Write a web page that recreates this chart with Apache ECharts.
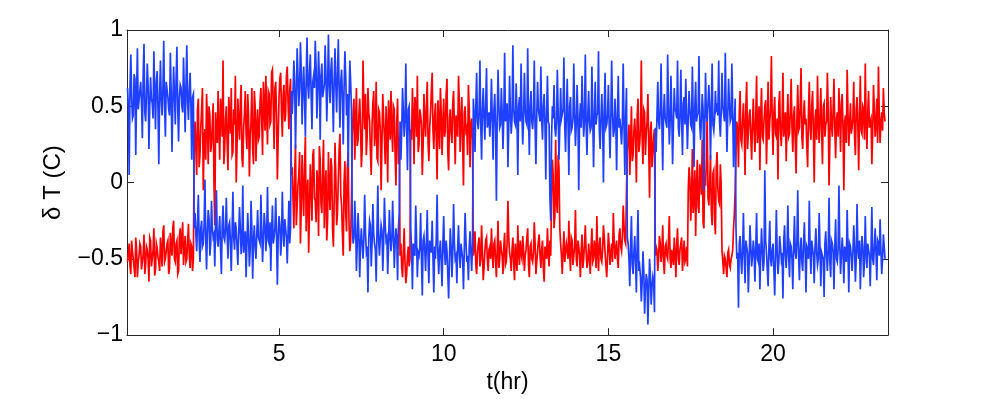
<!DOCTYPE html>
<html>
<head>
<meta charset="utf-8">
<script src="https://cdn.jsdelivr.net/npm/echarts@6/dist/echarts.min.js"></script>
<style>
    html, body { margin: 0; padding: 0; background: #fff; }
    #chart { width: 981px; height: 399px; }
</style>
</head>
<body>
<div id="chart"></div>
<script>
    // sampling of the two traces (hours): readings every tStep from tStart,
    // plus a second set of readings half a step later
    var tStart = 0.4;
    var tStep = 0.05;
    var xTicks = [5, 10, 15, 20];

    // red trace, one row per hour starting at tStart
    var redValues = [
        -0.52, -0.40, -0.60, -0.45, -0.56, -0.36, -0.62, -0.48, -0.42, -0.58, -0.34, -0.54, -0.44, -0.65, -0.38, -0.50, -0.30, -0.57, -0.43, -0.52,
        -0.36, -0.55, -0.28, -0.50, -0.40, -0.60, -0.33, -0.48, -0.25, -0.52, -0.38, -0.58, -0.30, -0.46, -0.54, -0.35, -0.50, -0.27, -0.56, -0.42,
        -0.50, 0.40, 0.05, 0.55, 0.18, 0.48, -0.05, 0.35, 0.58, 0.12, 0.44, 0.25, 0.52, -0.28, 0.30, 0.60, 0.15, 0.46, 0.80, 0.22,
        0.50, 0.08, 0.42, 0.62, 0.20, 0.38, 0.00, 0.55, 0.28, 0.64, 0.10, 0.45, 0.32, 0.58, 0.04, 0.40, 0.22, 0.60, 0.14, 0.48,
        0.30, 0.62, 0.18, 0.52, 0.70, 0.25, 0.58, 0.40, 0.74, 0.22, 0.66, 0.02, 0.56, 0.72, 0.30, 0.64, 0.44, 0.76, 0.35, 0.68,
        0.10, -0.30, 0.25, -0.15, 0.05, -0.40, 0.18, -0.22, 0.30, -0.08, -0.46, 0.12, -0.25, 0.22, -0.12, 0.08, -0.35, 0.15, -0.20, 0.28,
        -0.05, -0.38, 0.20, -0.18, 0.10, -0.42, 0.26, -0.28, 0.02, 0.32, -0.15, -0.48, 0.14, -0.32, 0.20, -0.45, -0.10, 0.45, 0.15, 0.62,
        0.28, 0.55, 0.10, 0.80, 0.35, 0.18, 0.62, 0.40, 0.05, 0.52, 0.24, 0.66, 0.14, 0.46, -0.05, 0.58, 0.30, 0.50, 0.00, 0.42,
        0.60, 0.20, 0.48, -0.02, 0.55, 0.30, -0.40, -0.62, -0.30, -0.66, -0.48, -0.55, 0.35, 0.62, 0.12, 0.50, 0.70, 0.25, 0.44, 0.05,
        0.58, 0.30, 0.66, 0.14, 0.46, 0.72, 0.22, 0.52, 0.02, 0.40, 0.62, 0.18, 0.55, 0.34, 0.68, 0.08, 0.48, 0.26, 0.60, 0.12,
        0.44, 0.70, 0.20, 0.56, -0.02, 0.50, 0.36, 0.64, 0.10, 0.42, -0.48, -0.32, -0.60, -0.40, -0.55, -0.28, -0.64, -0.45, -0.36, -0.58,
        -0.42, -0.30, -0.56, -0.38, -0.62, -0.25, -0.50, -0.44, -0.60, -0.33, -0.52, -0.12, -0.46, -0.58, -0.36, -0.64, -0.40, -0.28, -0.54, -0.47,
        -0.35, -0.58, -0.44, -0.30, -0.62, -0.40, -0.52, -0.26, -0.60, -0.45, -0.34, -0.56, -0.38, -0.65, -0.42, -0.30, -0.55, -0.48, 0.15, -0.30,
        0.28, -0.20, 0.10, -0.40, -0.60, -0.32, -0.52, -0.44, -0.25, -0.58, -0.38, -0.48, -0.18, -0.55, -0.42, -0.62, -0.34, -0.50, -0.28, -0.56,
        -0.40, -0.60, -0.30, -0.50, -0.44, -0.22, -0.58, -0.36, -0.52, -0.28, -0.46, -0.62, -0.33, -0.54, -0.40, -0.20, -0.50, -0.38, -0.56, -0.30,
        -0.45, -0.15, -0.38, -0.05, 0.30, 0.05, 0.50, 0.18, 0.42, 0.00, 0.55, 0.25, 0.80, 0.12, 0.46, 0.32, 0.58, -0.10, 0.40, 0.20,
        0.35, -0.42, -0.58, -0.35, -0.52, -0.28, -0.60, -0.40, -0.50, -0.22, -0.56, -0.45, -0.36, -0.62, -0.30, -0.54, -0.44, -0.58, -0.38, -0.50,
        -0.55, 0.10, -0.25, 0.22, -0.10, -0.35, 0.15, -0.20, 0.05, 0.28, -0.30, -0.02, 0.44, -0.15, 0.18, -0.28, 0.08, -0.34, 0.20, -0.12,
        0.12, -0.45, -0.60, -0.50, -0.62, -0.44, -0.56, -0.48, -0.30, -0.05, 0.40, 0.10, 0.60, 0.25, 0.52, 0.05, 0.66, 0.32, 0.48, 0.15,
        0.55, 0.20, 0.70, 0.36, 0.08, 0.62, 0.28, 0.50, 0.12, 0.66, 0.40, 0.83, 0.18, 0.56, 0.30, 0.02, 0.60, 0.24, 0.72, 0.38,
        0.14, 0.58, 0.32, 0.68, 0.20, 0.50, 0.06, 0.64, 0.36, 0.75, 0.22, 0.54, 0.42, 0.10, 0.66, 0.28, 0.60, 0.00, 0.48, 0.70,
        0.26, 0.62, 0.12, 0.52, 0.38, 0.72, -0.02, 0.56, 0.30, 0.68, 0.16, 0.46, 0.62, 0.20, 0.58, -0.05, 0.44, 0.74, 0.24, 0.52,
        0.36, 0.66, 0.18, 0.56, 0.08, 0.70, 0.32, 0.48, 0.78, 0.22, 0.60, 0.40, 0.12, 0.64, 0.30, 0.55, 0.76, 0.26, 0.46, 0.62,
        0.40
    ];
    // red trace, readings half a step after each of the above
    var redHalfValues = [
        -0.46, -0.55, -0.38, -0.50, -0.62, -0.44, -0.52, -0.40, -0.57, -0.47, -0.60, -0.42, -0.50, -0.36, -0.55, -0.45, -0.61, -0.40, -0.49, -0.58,
        -0.44, -0.32, -0.52, -0.45, -0.38, -0.56, -0.42, -0.30, -0.50, -0.40, -0.60, -0.35, -0.47, -0.26, -0.44, -0.52, -0.38, -0.48, -0.40, -0.58,
        0.30, 0.22, 0.48, 0.10, 0.36, 0.62, 0.28, 0.15, 0.42, 0.50, 0.20, 0.38, 0.00, 0.46, 0.26, 0.34, 0.55, 0.30, 0.12, 0.42,
        0.26, 0.56, 0.32, 0.18, 0.48, 0.70, 0.24, 0.40, 0.52, 0.16, 0.36, 0.60, 0.22, 0.44, 0.30, 0.62, 0.12, 0.50, 0.36, 0.28,
        0.54, 0.40, 0.66, 0.34, 0.44, 0.60, 0.38, 0.72, 0.50, 0.62, 0.42, 0.30, 0.68, 0.46, 0.58, 0.40, 0.70, 0.52, 0.60, 0.05,
        -0.10, 0.04, -0.28, -0.02, 0.20, -0.16, -0.05, 0.12, -0.32, 0.02, -0.18, -0.04, 0.18, -0.10, -0.26, 0.00, 0.24, -0.14, 0.06, -0.30,
        0.08, -0.24, -0.06, 0.16, -0.30, -0.12, 0.04, -0.20, 0.22, -0.08, -0.34, 0.00, -0.20, 0.10, -0.26, -0.38, 0.30, 0.55, 0.38, 0.24,
        0.44, 0.36, 0.22, 0.50, 0.58, 0.30, 0.46, 0.20, 0.38, 0.60, 0.32, 0.16, 0.48, 0.34, 0.26, 0.42, 0.12, 0.36, 0.54, 0.28,
        0.36, 0.50, 0.18, 0.40, 0.12, -0.48, -0.56, -0.45, -0.52, -0.60, -0.42, -0.50, 0.28, 0.42, 0.56, 0.30, 0.20, 0.48, 0.38, 0.24,
        0.42, 0.50, 0.26, 0.36, 0.60, 0.34, 0.44, 0.28, 0.54, 0.22, 0.46, 0.38, 0.30, 0.58, 0.20, 0.42, 0.32, 0.52, 0.36, 0.44,
        0.30, 0.52, 0.40, 0.26, 0.46, 0.34, 0.18, 0.48, 0.38, 0.28, -0.42, -0.54, -0.46, -0.36, -0.50, -0.44, -0.56, -0.38, -0.50, -0.44,
        -0.50, -0.46, -0.40, -0.52, -0.44, -0.56, -0.38, -0.48, -0.42, -0.54, -0.40, -0.36, -0.50, -0.44, -0.52, -0.40, -0.58, -0.46, -0.38, -0.50,
        -0.44, -0.48, -0.36, -0.54, -0.42, -0.50, -0.46, -0.40, -0.52, -0.38, -0.48, -0.44, -0.56, -0.42, -0.50, -0.46, -0.38, -0.10, 0.05, -0.22,
        -0.12, 0.18, -0.30, -0.48, -0.44, -0.52, -0.40, -0.50, -0.46, -0.36, -0.54, -0.42, -0.50, -0.38, -0.48, -0.44, -0.56, -0.40, -0.46, -0.52,
        -0.48, -0.42, -0.52, -0.38, -0.56, -0.46, -0.40, -0.50, -0.44, -0.36, -0.54, -0.48, -0.42, -0.46, -0.52, -0.38, -0.44, -0.50, -0.34, -0.42,
        -0.36, -0.28, -0.40, 0.20, 0.38, 0.26, 0.14, 0.34, 0.28, 0.44, 0.20, 0.36, 0.30, 0.48, 0.18, 0.40, 0.24, 0.34, 0.10, 0.30,
        -0.48, -0.44, -0.50, -0.40, -0.46, -0.52, -0.42, -0.48, -0.38, -0.50, -0.44, -0.54, -0.46, -0.40, -0.50, -0.44, -0.36, -0.48, -0.52, -0.42,
        -0.05, 0.02, -0.12, -0.20, 0.08, -0.02, -0.16, 0.12, -0.08, -0.26, 0.04, 0.14, -0.10, 0.00, -0.18, 0.06, -0.24, 0.10, -0.04, -0.14,
        -0.02, -0.52, -0.48, -0.56, -0.46, -0.54, -0.50, -0.44, -0.20, 0.20, 0.34, 0.46, 0.28, 0.40, 0.36, 0.50, 0.22, 0.44, 0.30, 0.38,
        0.34, 0.42, 0.26, 0.50, 0.44, 0.30, 0.40, 0.54, 0.36, 0.28, 0.48, 0.38, 0.46, 0.32, 0.42, 0.52, 0.34, 0.40, 0.30, 0.46,
        0.40, 0.30, 0.48, 0.36, 0.44, 0.26, 0.42, 0.34, 0.52, 0.30, 0.44, 0.38, 0.24, 0.46, 0.36, 0.50, 0.32, 0.42, 0.28, 0.40,
        0.44, 0.34, 0.50, 0.30, 0.40, 0.46, 0.28, 0.38, 0.48, 0.36, 0.42, 0.30, 0.44, 0.52, 0.34, 0.40, 0.26, 0.46, 0.38, 0.32,
        0.42, 0.30, 0.48, 0.38, 0.44, 0.34, 0.50, 0.28, 0.40, 0.46, 0.36, 0.42, 0.32, 0.48, 0.38, 0.26, 0.44, 0.40, 0.34, 0.46
    ];

    // blue trace, same sampling
    var blueValues = [
        0.62, 0.05, 0.84, 0.42, 0.71, 0.18, 0.88, 0.47, 0.66, 0.29, 0.91, 0.40, 0.78, 0.22, 0.69, 0.52, 0.86, 0.35, 0.73, 0.12,
        0.80, 0.44, 0.93, 0.30, 0.67, 0.48, 0.85, 0.20, 0.76, 0.38, 0.89, 0.27, 0.64, 0.50, 0.82, 0.33, 0.90, 0.41, 0.72, 0.15,
        0.58, -0.20, -0.45, -0.08, -0.52, -0.25, -0.40, 0.02, -0.57, -0.18, -0.48, -0.12, -0.36, -0.55, -0.05, -0.42, -0.22, -0.60, -0.15, -0.38,
        -0.10, -0.50, -0.26, -0.58, -0.06, -0.44, -0.30, -0.54, -0.16, -0.47, -0.02, -0.40, -0.62, -0.20, -0.55, -0.12, -0.63, -0.28, -0.50, -0.18,
        -0.35, -0.08, -0.52, -0.20, -0.45, -0.03, -0.40, -0.58, -0.15, -0.36, -0.10, -0.67, -0.22, -0.48, -0.06, -0.42, -0.25, -0.53, -0.12, -0.30,
        0.45, 0.80, 0.22, 0.88, 0.50, 0.92, 0.38, 0.76, 0.30, 0.95, 0.55, 0.84, 0.35, 0.70, 0.93, 0.42, 0.86, 0.28, 0.78, 0.60,
        0.90, 0.40, 0.97, 0.52, 0.82, 0.33, 0.88, 0.46, 0.94, 0.36, 0.74, 0.25, 0.86, 0.44, 0.10, 0.80, 0.48, -0.40, -0.12, -0.58,
        -0.20, -0.62, -0.30, -0.50, -0.08, -0.45, -0.72, -0.25, -0.55, -0.14, -0.40, -0.65, -0.02, -0.48, -0.28, -0.58, -0.10, -0.38, -0.60, -0.18,
        -0.45, -0.12, -0.56, -0.30, -0.64, -0.20, 0.15, 0.62, 0.30, 0.78, 0.08, 0.50, -0.30, -0.70, -0.40, -0.15, -0.62, -0.48, -0.20, -0.74,
        -0.35, -0.58, -0.18, -0.66, -0.42, -0.25, -0.72, -0.50, -0.08, -0.60, -0.38, -0.68, -0.22, -0.54, -0.45, -0.76, -0.30, -0.62, -0.14, -0.50,
        -0.66, -0.28, -0.56, -0.40, -0.70, -0.20, -0.52, -0.64, -0.32, -0.58, 0.55, 0.20, 0.72, 0.35, 0.80, 0.15, 0.62, 0.28, 0.75, 0.40,
        0.30, 0.68, 0.15, 0.58, -0.12, 0.74, 0.36, 0.62, 0.22, 0.85, 0.45, 0.10, 0.70, 0.32, 0.90, 0.40, 0.65, 0.05, 0.56, 0.78,
        0.25, 0.72, 0.40, 0.88, 0.18, 0.60, 0.35, 0.80, 0.12, 0.66, 0.48, 0.76, 0.28, 0.58, 0.02, 0.70, 0.38, -0.25, 0.50, 0.64,
        0.30, 0.74, 0.15, 0.62, 0.42, 0.82, 0.20, 0.68, 0.05, 0.56, 0.36, 0.78, 0.24, 0.64, -0.05, 0.52, 0.70, 0.30, 0.84, 0.18,
        0.60, 0.34, 0.76, 0.10, 0.66, 0.44, 0.86, 0.22, 0.58, 0.00, 0.72, 0.38, 0.64, 0.16, 0.80, 0.30, 0.55, 0.08, 0.70, 0.42,
        0.25, 0.78, 0.05, 0.62, -0.40, -0.68, -0.22, -0.60, -0.35, -0.72, -0.18, -0.55, -0.78, -0.45, -0.86, -0.60, -0.93, -0.50, -0.80, -0.62,
        -0.85, 0.20, 0.66, 0.35, 0.78, 0.08, 0.58, 0.42, 0.84, 0.25, 0.70, 0.12, 0.62, 0.46, 0.80, 0.30, 0.74, 0.18, 0.56, 0.68,
        0.22, 0.60, 0.38, 0.76, 0.10, 0.66, 0.44, 0.83, 0.28, 0.58, -0.05, 0.72, 0.40, 0.64, 0.15, 0.78, 0.34, 0.60, 0.50, 0.80,
        0.30, 0.72, 0.45, 0.85, 0.20, 0.68, 0.40, 0.78, 0.10, 0.55, -0.50, -0.82, -0.35, -0.60, -0.20, -0.66, -0.42, -0.72, -0.28, -0.55,
        -0.38, -0.65, -0.20, -0.52, -0.70, -0.30, -0.58, 0.08, -0.46, -0.68, -0.25, -0.55, -0.40, -0.74, -0.18, -0.60, -0.35, -0.50, -0.76, -0.28,
        -0.56, -0.15, -0.62, -0.42, -0.70, -0.22, -0.50, -0.05, -0.64, -0.36, -0.58, -0.26, -0.72, -0.44, -0.12, -0.60, -0.38, -0.66, -0.30, -0.54,
        -0.20, -0.68, -0.45, -0.75, -0.32, -0.58, -0.10, -0.62, -0.40, -0.70, -0.24, -0.52, -0.02, -0.60, -0.36, -0.66, -0.48, -0.18, -0.72, -0.42,
        -0.58, -0.28, -0.65, -0.14, -0.50, -0.70, -0.35, -0.62, -0.22, -0.56, -0.44, -0.68, -0.16, -0.54, -0.30, -0.64, -0.40, -0.24, -0.60, -0.34,
        -0.50
    ];
    // blue trace, readings half a step after each of the above
    var blueHalfValues = [
        0.50, 0.62, 0.56, 0.44, 0.68, 0.58, 0.48, 0.60, 0.52, 0.70, 0.46, 0.57, 0.64, 0.50, 0.55, 0.42, 0.60, 0.66, 0.48, 0.58,
        0.54, 0.62, 0.50, 0.66, 0.56, 0.44, 0.60, 0.52, 0.58, 0.68, 0.48, 0.56, 0.62, 0.46, 0.58, 0.64, 0.52, 0.60, 0.50, 0.56,
        -0.30, -0.34, -0.26, -0.38, -0.30, -0.42, -0.28, -0.36, -0.32, -0.24, -0.40, -0.30, -0.34, -0.22, -0.38, -0.32, -0.44, -0.28, -0.36, -0.30,
        -0.34, -0.28, -0.40, -0.32, -0.36, -0.26, -0.42, -0.34, -0.30, -0.38, -0.46, -0.32, -0.40, -0.36, -0.44, -0.30, -0.38, -0.42, -0.34, -0.36,
        -0.40, -0.32, -0.36, -0.28, -0.34, -0.38, -0.26, -0.32, -0.40, -0.30, -0.36, -0.34, -0.28, -0.38, -0.30, -0.24, -0.36, -0.32, -0.40, 0.60,
        0.58, 0.66, 0.54, 0.70, 0.62, 0.74, 0.60, 0.56, 0.68, 0.64, 0.72, 0.58, 0.66, 0.62, 0.76, 0.60, 0.68, 0.70, 0.56, 0.64,
        0.70, 0.62, 0.66, 0.74, 0.58, 0.68, 0.64, 0.72, 0.60, 0.66, 0.56, 0.62, 0.70, 0.58, 0.52, 0.66, -0.30, -0.36, -0.28, -0.40,
        -0.34, -0.40, -0.30, -0.38, -0.32, -0.42, -0.36, -0.28, -0.40, -0.34, -0.44, -0.30, -0.38, -0.36, -0.32, -0.40, -0.28, -0.36, -0.42, -0.34,
        -0.38, -0.32, -0.40, -0.36, -0.30, 0.40, 0.34, 0.46, 0.42, 0.36, 0.48, 0.30, -0.44, -0.40, -0.48, -0.36, -0.46, -0.42, -0.50, -0.38,
        -0.44, -0.40, -0.48, -0.38, -0.46, -0.50, -0.42, -0.36, -0.48, -0.44, -0.52, -0.40, -0.46, -0.38, -0.44, -0.50, -0.42, -0.46, -0.40, -0.48,
        -0.42, -0.46, -0.40, -0.50, -0.44, -0.38, -0.48, -0.42, -0.46, -0.40, 0.44, 0.50, 0.40, 0.46, 0.38, 0.48, 0.42, 0.52, 0.36, 0.46,
        0.44, 0.40, 0.48, 0.36, 0.42, 0.50, 0.38, 0.46, 0.44, 0.40, 0.52, 0.36, 0.46, 0.42, 0.48, 0.38, 0.44, 0.50, 0.40, 0.46,
        0.42, 0.48, 0.38, 0.44, 0.50, 0.40, 0.46, 0.36, 0.44, 0.48, 0.40, 0.42, 0.50, 0.38, 0.46, 0.40, -0.10, 0.30, 0.42, 0.36,
        0.40, 0.46, 0.36, 0.42, 0.48, 0.38, 0.44, 0.40, 0.50, 0.34, 0.42, 0.46, 0.38, 0.44, 0.40, 0.36, 0.48, 0.42, 0.38, 0.44,
        0.40, 0.36, 0.44, 0.42, 0.38, 0.46, 0.34, 0.42, 0.40, 0.48, 0.36, 0.44, 0.38, 0.42, 0.46, 0.34, 0.40, 0.44, 0.36, 0.42,
        0.40, 0.36, 0.44, -0.36, -0.50, -0.42, -0.54, -0.46, -0.52, -0.40, -0.58, -0.62, -0.66, -0.58, -0.70, -0.64, -0.72, -0.60, -0.68, -0.66,
        0.36, 0.44, 0.40, 0.48, 0.38, 0.46, 0.42, 0.36, 0.50, 0.40, 0.44, 0.38, 0.48, 0.42, 0.36, 0.46, 0.40, 0.52, 0.38, 0.44,
        0.42, 0.48, 0.36, 0.44, 0.50, 0.40, 0.46, 0.38, 0.42, 0.48, 0.36, 0.44, 0.40, 0.50, 0.46, 0.38, 0.42, 0.48, 0.44, 0.40,
        0.46, 0.50, 0.40, 0.48, 0.44, 0.52, 0.42, 0.46, 0.38, -0.30, -0.46, -0.40, -0.50, -0.44, -0.48, -0.38, -0.46, -0.52, -0.42, -0.48,
        -0.46, -0.42, -0.50, -0.40, -0.48, -0.44, -0.52, -0.38, -0.46, -0.42, -0.50, -0.44, -0.40, -0.48, -0.46, -0.52, -0.42, -0.46, -0.38, -0.48,
        -0.44, -0.48, -0.40, -0.50, -0.42, -0.46, -0.38, -0.48, -0.44, -0.52, -0.40, -0.46, -0.42, -0.50, -0.44, -0.38, -0.48, -0.42, -0.46, -0.50,
        -0.42, -0.46, -0.50, -0.40, -0.48, -0.44, -0.52, -0.38, -0.46, -0.42, -0.50, -0.44, -0.40, -0.48, -0.46, -0.42, -0.52, -0.44, -0.40, -0.48,
        -0.46, -0.42, -0.50, -0.44, -0.38, -0.48, -0.42, -0.52, -0.46, -0.40, -0.48, -0.44, -0.50, -0.42, -0.46, -0.38, -0.48, -0.44, -0.50, -0.42
    ];

    // merge the two sets of readings into one time-ordered trace
    function trace(values, halfValues) {
        var out = [];
        for (var i = 0; i < values.length; i++) {
            var t = tStart + i * tStep;
            out.push([+t.toFixed(3), values[i]]);
            if (i < halfValues.length) {
                out.push([+(t + tStep / 2).toFixed(3), halfValues[i]]);
            }
        }
        return out;
    }

    function minus(v) {
        return String(v).replace('-', '\u2212');
    }

    var fontName = '"Liberation Sans", Arial, sans-serif';
    var frameColor = '#262626';

    var mychart = echarts.init(document.getElementById('chart'), null, {renderer: 'canvas'});

    var tickStyle = {show: true, inside: true, length: 7, lineStyle: {color: frameColor, width: 1}};
    var lineStyle = {show: true, onZero: false, lineStyle: {color: frameColor, width: 1}};

    var option = {
        animation: false,
        backgroundColor: '#fff',
        grid: {left: 127, right: 93, top: 30, bottom: 58, containLabel: false},
        xAxis: [{
            type: 'value',
            min: 0.384,
            max: 23.49,
            position: 'bottom',
            name: 't(hr)',
            nameLocation: 'middle',
            nameGap: 28,
            nameTextStyle: {fontFamily: fontName, fontSize: 23, color: '#000'},
            axisLine: lineStyle,
            axisTick: Object.assign({customValues: xTicks}, tickStyle),
            axisLabel: {customValues: xTicks, margin: 8, fontFamily: fontName, fontSize: 23, color: '#000'},
            splitLine: {show: false}
        }, {
            type: 'value',
            min: 0.384,
            max: 23.49,
            position: 'top',
            axisLine: lineStyle,
            axisTick: Object.assign({customValues: xTicks}, tickStyle),
            axisLabel: {show: false},
            splitLine: {show: false}
        }],
        yAxis: [{
            type: 'value',
            min: -1,
            max: 1,
            interval: 0.5,
            position: 'left',
            name: '\u03b4 T (C)',
            nameLocation: 'middle',
            nameGap: 62,
            nameTextStyle: {fontFamily: fontName, fontSize: 24, color: '#000'},
            axisLine: lineStyle,
            axisTick: tickStyle,
            axisLabel: {margin: 4, fontFamily: fontName, fontSize: 23, color: '#000', formatter: minus},
            splitLine: {show: false}
        }, {
            type: 'value',
            min: -1,
            max: 1,
            interval: 0.5,
            position: 'right',
            axisLine: lineStyle,
            axisTick: tickStyle,
            axisLabel: {show: false},
            splitLine: {show: false}
        }],
        series: [{
            name: 'red',
            type: 'line',
            data: trace(redValues, redHalfValues),
            showSymbol: false,
            symbol: 'none',
            silent: true,
            lineStyle: {color: '#ff0000', width: 1.7, join: 'miter'},
            z: 2
        }, {
            name: 'blue',
            type: 'line',
            data: trace(blueValues, blueHalfValues),
            showSymbol: false,
            symbol: 'none',
            silent: true,
            lineStyle: {color: '#2040ff', width: 1.7, join: 'miter'},
            z: 3
        }]
    };
    mychart.setOption(option);
</script>
</body>
</html>
